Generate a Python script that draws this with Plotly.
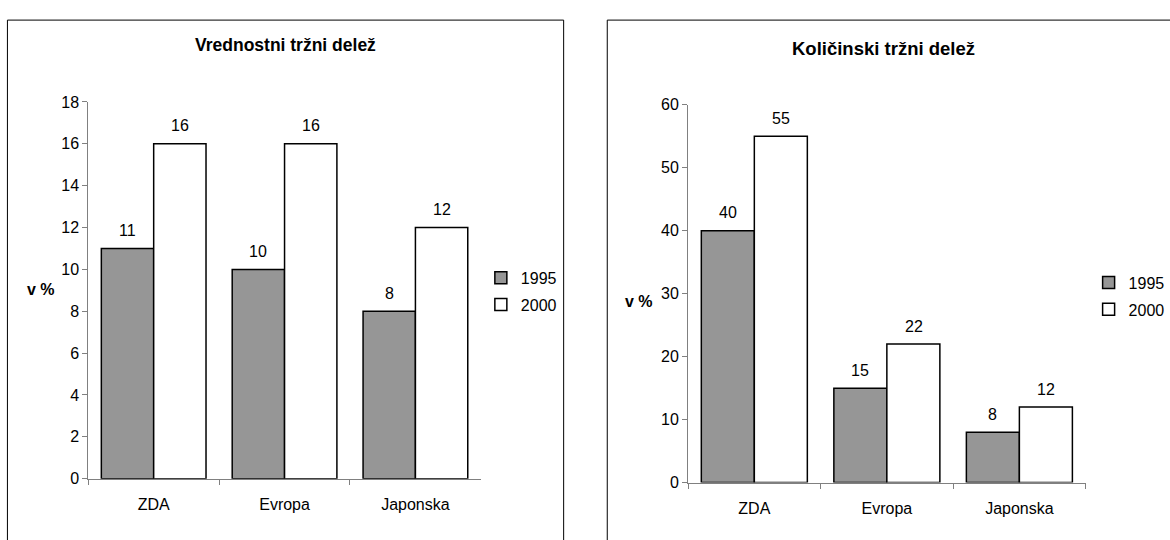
import plotly.graph_objects as go

# ---- data ----
categories = ["ZDA", "Evropa", "Japonska"]
years = ["1995", "2000"]
value_share_1995 = [11, 10, 8]
value_share_2000 = [16, 16, 12]
volume_share_1995 = [40, 15, 8]
volume_share_2000 = [55, 22, 12]
left_title = "Vrednostni tržni delež"
right_title = "Količinski tržni delež"
y_label = "v %"
left_ticks = [0, 2, 4, 6, 8, 10, 12, 14, 16, 18]
right_ticks = [0, 10, 20, 30, 40, 50, 60]

# ---- style ----
W, H = 1170, 540
FONT = "Liberation Sans, Arial, sans-serif"
GRAY = "#969696"
AX = "#808080"
BARGAP = 0.2


def px_x(p):
    return p / W


def px_y(p):
    return 1 - p / H


L_X = [px_x(89), px_x(485)]
L_Y = [px_y(486), px_y(97)]
R_X = [px_x(694), px_x(1095)]
R_Y = [px_y(490), px_y(100)]

fig = go.Figure()

series = [
    (value_share_1995, GRAY, years[0], "x", "y", "legend"),
    (value_share_2000, "white", years[1], "x", "y", "legend"),
    (volume_share_1995, GRAY, years[0], "x2", "y2", "legend2"),
    (volume_share_2000, "white", years[1], "x2", "y2", "legend2"),
]
for i, (vals, col, name, xa, ya, lg) in enumerate(series):
    fig.add_trace(go.Bar(
        x=categories, y=vals, name=name, xaxis=xa, yaxis=ya,
        marker=dict(color=col, line=dict(color="black", width=1.5)),
        legend=lg, legendgroup=f"g{i}", offsetgroup=str(i % 2),
        hoverinfo="skip",
    ))

# data labels as annotations above bars
annotations = []
for vals_pair, xa, ya, xdom in [
    ((value_share_1995, value_share_2000), "x", "y", L_X),
    ((volume_share_1995, volume_share_2000), "x2", "y2", R_X),
]:
    cat_w = (xdom[1] - xdom[0]) * W / len(categories)
    bw = cat_w * (1 - BARGAP) / 2
    for k, vals in enumerate(vals_pair):
        shift = -bw / 2 if k == 0 else bw / 2
        for c, v in zip(categories, vals):
            annotations.append(dict(
                x=c, y=v, xref=xa, yref=ya, text=str(v), showarrow=False,
                xanchor="center", yanchor="middle",
                xshift=shift, yshift=18, font=dict(size=16, color="black"),
            ))


def paper_text(x, y, text, size):
    return dict(x=px_x(x), y=px_y(y), xref="paper", yref="paper", text=text,
                showarrow=False, xanchor="center", yanchor="middle",
                font=dict(size=size, color="black"))


annotations.append(paper_text(288, 38, f"<b>{left_title}</b>", 17.5))
annotations.append(paper_text(891, 42, f"<b>{right_title}</b>", 18.5))
annotations.append(paper_text(41, 291, f"<b>{y_label}</b>", 16))
annotations.append(paper_text(645, 303, f"<b>{y_label}</b>", 16))

shapes = [
    dict(type="rect", xref="paper", yref="paper", x0=px_x(7.5), x1=px_x(568.5),
         y0=px_y(560), y1=px_y(12.5), line=dict(color="black", width=1)),
    dict(type="rect", xref="paper", yref="paper", x0=px_x(612.5), x1=px_x(1190),
         y0=px_y(560), y1=px_y(12.5), line=dict(color="black", width=1)),
]

xcommon = dict(type="category", showline=True, linecolor=AX, linewidth=1,
               ticks="outside", tickson="boundaries", ticklen=5, tickcolor=AX,
               showgrid=False, zeroline=False, fixedrange=True,
               tickfont=dict(size=16, color="black"), ticklabelstandoff=11)
ycommon = dict(showline=True, linecolor=AX, linewidth=1, ticks="outside",
               ticklen=5, tickcolor=AX, showgrid=False, zeroline=False,
               fixedrange=True, tickfont=dict(size=16, color="black"))

fig.update_layout(
    width=W, height=H,
    margin=dict(l=0, r=0, t=0, b=0),
    paper_bgcolor="white", plot_bgcolor="white",
    font=dict(family=FONT, color="black"),
    barmode="group", bargap=BARGAP, bargroupgap=0,
    showlegend=True,
    xaxis=dict(domain=L_X, anchor="y", **xcommon),
    yaxis=dict(domain=L_Y, anchor="x", range=[0, 18], tickvals=left_ticks, **ycommon),
    xaxis2=dict(domain=R_X, anchor="y2", **xcommon),
    yaxis2=dict(domain=R_Y, anchor="x2", range=[0, 60], tickvals=right_ticks, **ycommon),
    legend=dict(x=px_x(485), y=px_y(261), xanchor="left", yanchor="top",
                font=dict(size=16), traceorder="grouped", tracegroupgap=3,
                bgcolor="rgba(0,0,0,0)", itemclick=False, itemdoubleclick=False),
    legend2=dict(x=px_x(1098), y=px_y(266), xanchor="left", yanchor="top",
                 font=dict(size=16), traceorder="grouped", tracegroupgap=3,
                 bgcolor="rgba(0,0,0,0)", itemclick=False, itemdoubleclick=False),
    annotations=annotations,
    shapes=shapes,
)

fig.write_html("out.html", config={"displayModeBar": False})
